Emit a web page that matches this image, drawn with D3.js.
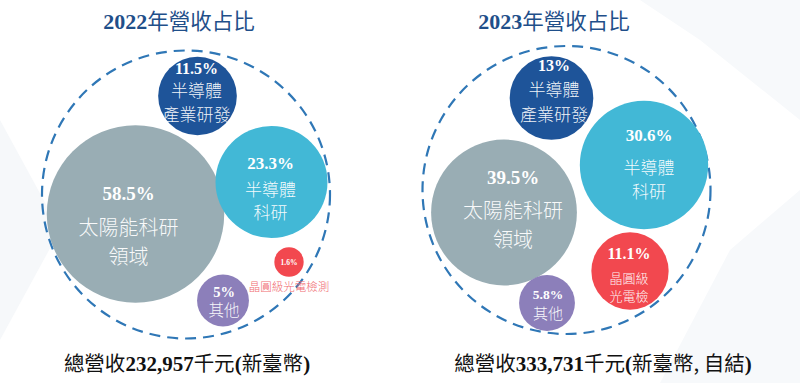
<!DOCTYPE html>
<html><head><meta charset="utf-8">
<script src="https://cdn.jsdelivr.net/npm/d3@7/dist/d3.min.js"></script>
<style>
html,body{margin:0;padding:0;background:#fff;}
svg{display:block;}
</style></head>
<body>
<svg id="chart" width="800" height="383"></svg>
<script>
// ---------- DATA ----------
const years = ["2022", "2023"];
const categories = ["太陽能科研領域", "半導體科研", "半導體產業研發", "晶圓級光電檢測", "其他"];
const share2022 = [58.5, 23.3, 11.5, 1.6, 5];
const share2023 = [39.5, 30.6, 13, 11.1, 5.8];
const pctLabels2022 = ["58.5%", "23.3%", "11.5%", "1.6%", "5%"];
const pctLabels2023 = ["39.5%", "30.6%", "13%", "11.1%", "5.8%"];
const nameLines2022 = [["太陽能科研", "領域"], ["半導體", "科研"], ["半導體", "產業研發"], ["晶圓級光電檢測"], ["其他"]];
const nameLines2023 = [["太陽能科研", "領域"], ["半導體", "科研"], ["半導體", "產業研發"], ["晶圓級", "光電檢"], ["其他"]];
const totals = ["232,957", "333,731"];
const totalNotes = ["新臺幣", "新臺幣, 自結"];
const titleSuffix = "年營收占比";

// ---------- STYLE / LAYOUT ----------
const colors = ["#99adb4", "#42b8d6", "#1e5499", "#f2484f", "#8c7fba"];
const panels = [
  { cx: 186, cy: 194.5, ring: 144, titleX: 179, totalX: 187,
    pos: [[-50.5, 19.5], [85.5, -12.5], [11.5, -98.5], [103, 67.5], [37, 106]],
    lab: [[-7, -21, 14, 43], [-1, -19, 8, 31], [-1, -28, -5, 19], [0, 0, 25], [1, -9, 10]],
    pctSize: [19, 17, 16, 7.5, 14.5], nameSize: [20, 17, 17, 11.5, 15.5] },
  { cx: 566.5, cy: 190, ring: 144, titleX: 554, totalX: 603,
    pos: [[-62.5, 22.5], [77.5, -25], [-15, -92], [63.5, 81], [-19.5, 113]],
    lab: [[9, -35, -2, 27], [5, -30, 3, 27], [2.5, -33, -8, 17], [-1, -18, 7, 25], [1, -8.5, 11]],
    pctSize: [19, 17, 16, 16, 13.5], nameSize: [20, 17, 17, 13, 15] }
];
const shares = [share2022, share2023];
const pctLabels = [pctLabels2022, pctLabels2023];
const nameLines = [nameLines2022, nameLines2023];

const serif = "'Liberation Serif','Times New Roman',serif";
const sans = "'Noto Sans CJK TC','Noto Sans CJK SC',sans-serif";

const svg = d3.select("#chart");

// faint background shapes
const bg = svg.append("g");
bg.append("path").attr("d", "M0,120 L60,230 L0,340 Z").attr("fill", "#f6f8fa");
bg.append("path").attr("d", "M640,0 L800,0 L800,120 L700,40 Z").attr("fill", "#f7f9fb");
bg.append("path").attr("d", "M730,250 L800,190 L800,383 L660,383 Z").attr("fill", "#f7f9fb");

const r = d3.scaleSqrt().domain([0, 60]).range([0, 11.6 * Math.sqrt(60)]);

panels.forEach((p, pi) => {
  const g = svg.append("g").attr("transform", `translate(${p.cx},${p.cy})`);

  const t = svg.append("text").attr("x", p.titleX).attr("y", 29)
    .attr("text-anchor", "middle").attr("fill", "#1f4f8a");
  t.append("tspan").text(years[pi]).attr("font-family", serif).attr("font-weight", "bold").attr("font-size", 22);
  t.append("tspan").text(titleSuffix).attr("font-family", sans).attr("font-size", 21.5);

  g.append("circle").attr("r", p.ring).attr("fill", "none")
    .attr("stroke", "#2f77b6").attr("stroke-width", 2.2).attr("stroke-dasharray", "11 7");

  const data = shares[pi].map((v, i) => ({ v, i }));
  const bub = g.selectAll("g.b").data(data).join("g").attr("class", "b")
    .attr("transform", d => `translate(${p.pos[d.i][0]},${p.pos[d.i][1]})`);
  bub.append("circle").attr("r", d => r(d.v)).attr("fill", d => colors[d.i]);

  bub.each(function (d) {
    const b = d3.select(this);
    const L = p.lab[d.i];
    b.append("text").attr("x", L[0]).attr("y", L[1]).attr("dy", "0.35em")
      .attr("text-anchor", "middle").attr("fill", "#fff")
      .attr("font-family", serif).attr("font-weight", "bold")
      .attr("font-size", p.pctSize[d.i]).text(pctLabels[pi][d.i]);
    const outside = (pi === 0 && d.i === 3);
    nameLines[pi][d.i].forEach((ln, k) => {
      b.append("text").attr("x", L[0]).attr("y", L[2 + k]).attr("dy", "0.36em")
        .attr("text-anchor", "middle")
        .attr("fill", outside ? "#f06b70" : "#fff")
        .attr("fill-opacity", outside ? 1 : 0.95)
        .attr("font-family", sans).attr("font-weight", 300)
        .attr("font-size", p.nameSize[d.i]).text(ln);
    });
  });

  const tt = svg.append("text").attr("x", p.totalX).attr("y", 371)
    .attr("text-anchor", "middle").attr("fill", "#111");
  tt.append("tspan").text("總營收").attr("font-family", sans).attr("font-size", 20.5);
  tt.append("tspan").text(totals[pi]).attr("font-family", serif).attr("font-weight", "bold").attr("font-size", 21);
  tt.append("tspan").text("千元").attr("font-family", sans).attr("font-size", 20.5);
  tt.append("tspan").text("(").attr("font-family", serif).attr("font-weight", "bold").attr("font-size", 21);
  tt.append("tspan").text(totalNotes[pi]).attr("font-family", sans).attr("font-size", 20.5);
  tt.append("tspan").text(")").attr("font-family", serif).attr("font-weight", "bold").attr("font-size", 21);
});
</script>
</body></html>
